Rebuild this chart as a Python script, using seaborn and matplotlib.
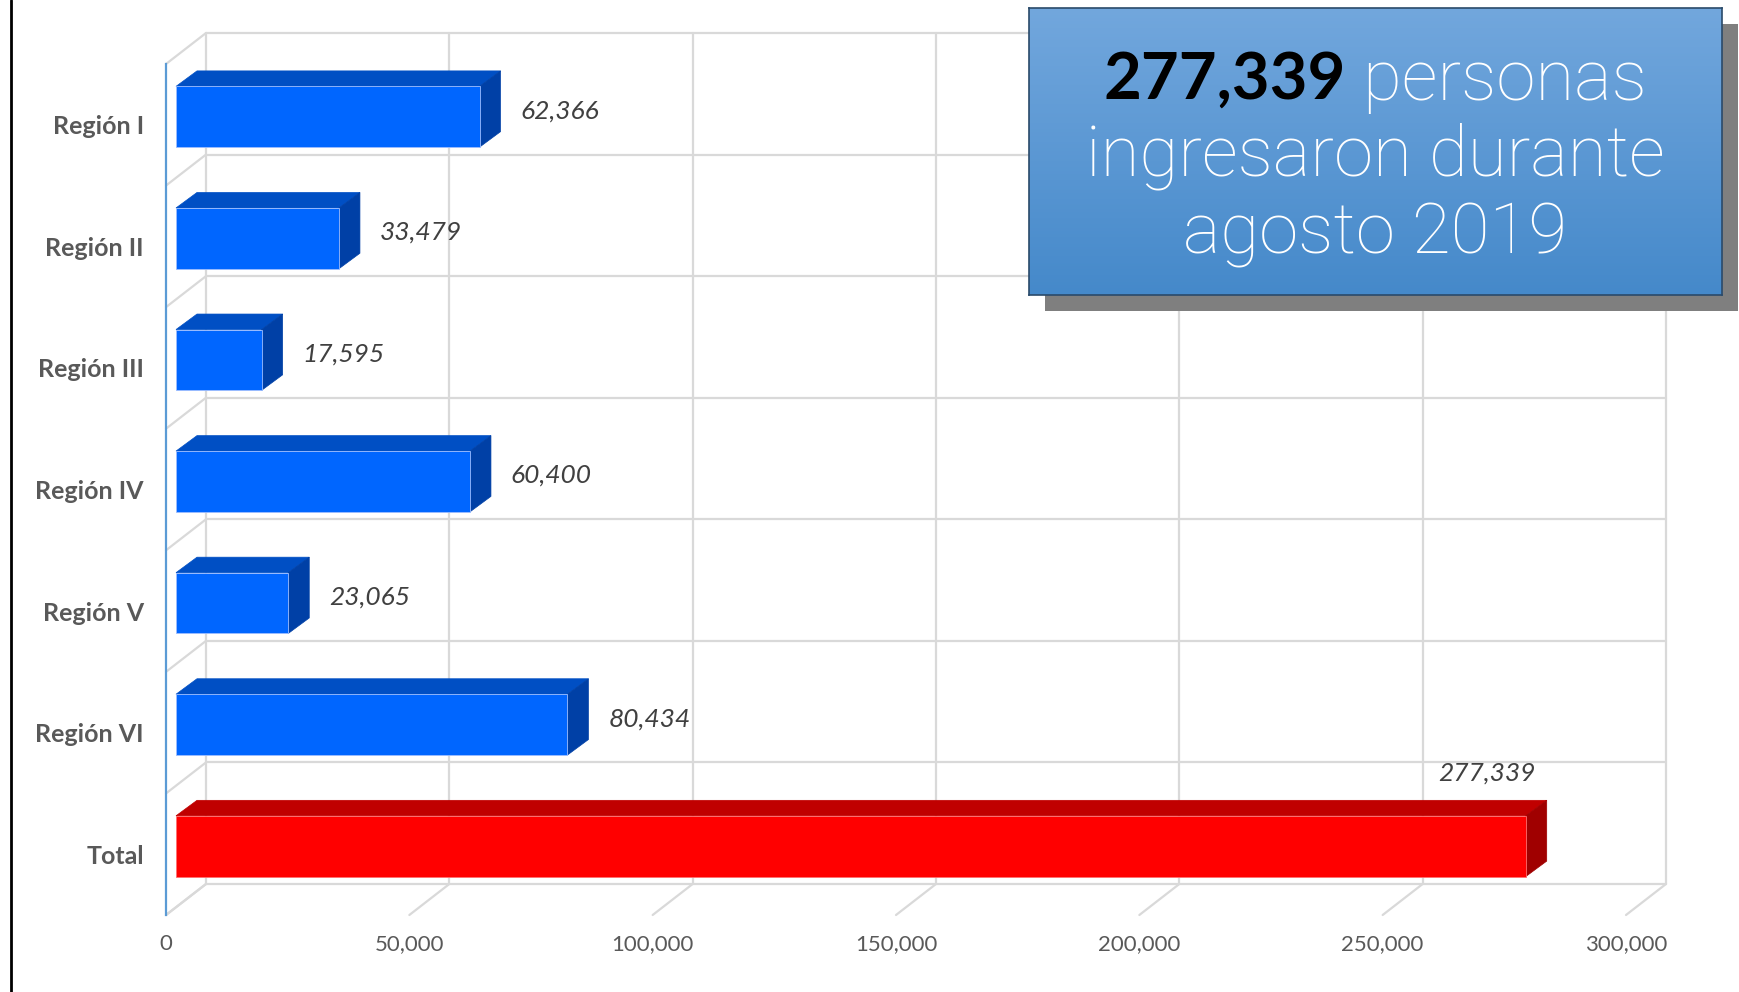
import matplotlib
matplotlib.use("Agg")
from matplotlib import pyplot as plt
from matplotlib.patches import Polygon, Rectangle
from matplotlib.lines import Line2D
import seaborn as sns
import numpy as np

regiones = ["Región I", "Región II", "Región III", "Región IV", "Región V", "Región VI", "Total"]
valores = [62366, 33479, 17595, 60400, 23065, 80434, 277339]
etiquetas = ["62,366", "33,479", "17,595", "60,400", "23,065", "80,434", "277,339"]
colores = ["#0066FF"] * 6 + ["#FF0000"]
colores_top = ["#004FC4"] * 6 + ["#C00000"]
colores_lado = ["#0040A6"] * 6 + ["#A00000"]
colores_borde = ["#9DBDFF"] * 6 + ["#FF7070"]
xticks = [0, 50000, 100000, 150000, 200000, 250000, 300000]

sns.set_style("white")
plt.rcParams["font.family"] = ["Lato", "DejaVu Sans"]

W, H = 1739, 992
fig = plt.figure(figsize=(W / 100, H / 100), dpi=100)
ax_l, ax_b, ax_w, ax_h = 166, 77, 1460, 851
ax = fig.add_axes([ax_l / W, ax_b / H, ax_w / W, ax_h / H])

sns.barplot(x=valores, y=regiones, hue=regiones, palette=colores, orient="h",
            width=0.5, saturation=1, legend=False, ax=ax, zorder=3, linewidth=0.6)
ax.set_xlim(0, 300000)
ax.set_ylim(len(regiones) - 0.5, -0.5)

# pixel -> data units
px_x = 300000 / ax_w
px_y = len(regiones) / ax_h
def shift(dx, dy):
    return dx * px_x, -dy * px_y

wall_x, wall_y = shift(40, 31)
front_x, front_y = shift(10, 8)
deep_x, deep_y = shift(21, 15.5)

grid_c = "#D9D9D9"
grid_lw = 1.6
bounds = np.arange(-0.5, len(regiones), 1.0)
# back wall
for xv in xticks:
    ax.add_line(Line2D([xv + wall_x, xv + wall_x], [bounds[0] + wall_y, bounds[-1] + wall_y],
                       color=grid_c, lw=grid_lw, zorder=0, clip_on=False))
    ax.add_line(Line2D([xv, xv + wall_x], [bounds[-1], bounds[-1] + wall_y],
                       color=grid_c, lw=grid_lw, zorder=0, clip_on=False))
for b in bounds:
    ax.add_line(Line2D([wall_x, 300000 + wall_x], [b + wall_y, b + wall_y],
                       color=grid_c, lw=grid_lw, zorder=0, clip_on=False))
    ax.add_line(Line2D([0, wall_x], [b, b + wall_y],
                       color=grid_c, lw=grid_lw, zorder=0, clip_on=False))

# 3d bars
for i, p in enumerate(ax.patches):
    x0 = p.get_x() + front_x
    y0 = p.get_y() + front_y
    w = p.get_width()
    h = p.get_height()
    p.set_x(x0)
    p.set_y(y0)
    p.set_edgecolor(colores_borde[i])
    top = Polygon([(x0, y0), (x0 + w, y0), (x0 + w + deep_x, y0 + deep_y), (x0 + deep_x, y0 + deep_y)],
                  closed=True, facecolor=colores_top[i], edgecolor=colores_top[i], lw=0.5, zorder=2, clip_on=False)
    lado = Polygon([(x0 + w, y0), (x0 + w, y0 + h), (x0 + w + deep_x, y0 + h + deep_y), (x0 + w + deep_x, y0 + deep_y)],
                   closed=True, facecolor=colores_lado[i], edgecolor=colores_lado[i], lw=0.5, zorder=2, clip_on=False)
    ax.add_patch(top)
    ax.add_patch(lado)
    if i < len(regiones) - 1:
        ax.annotate(etiquetas[i], xy=(x0 + w, y0 + h / 2), xytext=(29.5, 4.3), textcoords="offset points",
                    ha="left", va="center", fontsize=19, style="italic", color="#404040")
    else:
        ax.annotate(etiquetas[i], xy=(x0 + w, y0), xytext=(-28, 31), textcoords="offset points",
                    ha="center", va="center", fontsize=19, style="italic", color="#404040")

for s in ["top", "right", "bottom"]:
    ax.spines[s].set_visible(False)
ax.spines["left"].set_color("#5B9BD5")
ax.spines["left"].set_linewidth(1.6)
ax.set_xticks(xticks)
ax.set_xticklabels([f"{v:,}" for v in xticks], fontsize=16, color="#595959")
ax.tick_params(axis="x", length=0, pad=14)
ax.tick_params(axis="y", length=0, pad=16)
for t in ax.get_yticklabels():
    t.set_fontsize(18)
    t.set_fontweight("bold")
    t.set_color("#595959")
ax.set_xlabel("")
ax.set_ylabel("")

# left frame line
fig.add_artist(Line2D([11 / W, 11 / W], [0, 1], color="black", lw=2, transform=fig.transFigure))

# text box with shadow
bx0, by0, bx1, by1 = 1029, 8, 1722, 295
sh = 15.5
fig.add_artist(Rectangle(((bx0 + sh) / W, 1 - (by1 + sh) / H), (bx1 - bx0) / W, (by1 - by0) / H,
                         transform=fig.transFigure, facecolor="#7F7F7F", edgecolor="none", zorder=5))
bax = fig.add_axes([bx0 / W, 1 - by1 / H, (bx1 - bx0) / W, (by1 - by0) / H], zorder=6)
grad = np.linspace(0, 1, 256).reshape(-1, 1)
cmap = matplotlib.colors.LinearSegmentedColormap.from_list("caja", ["#72A7DD", "#4589CA"])
bax.imshow(grad, aspect="auto", cmap=cmap, extent=[0, 1, 0, 1], origin="upper")
bax.set_xlim(0, 1)
bax.set_ylim(0, 1)
bax.set_xticks([])
bax.set_yticks([])
for s in bax.spines.values():
    s.set_color("#2A4A6A")
    s.set_linewidth(1.2)

caja_font = ["Roboto", "DejaVu Sans"]
cx = (1375 - bx0) / (bx1 - bx0)
def ypos(y):
    return 1 - (y - by0) / (by1 - by0)
t1 = bax.text(0, ypos(80), "277,339", fontsize=47, fontweight="bold", color="black", ha="left", va="center")
t2 = bax.text(0, ypos(80), " personas", fontsize=51, fontweight="light", family=caja_font, color="white", ha="left", va="center")
bax.text(cx, ypos(156), "ingresaron durante", fontsize=51, fontweight="light", family=caja_font, color="white", ha="center", va="center")
bax.text(cx, ypos(234), "agosto 2019", fontsize=51, fontweight="light", family=caja_font, color="white", ha="center", va="center")

fig.canvas.draw()
r = fig.canvas.get_renderer()
w1 = t1.get_window_extent(r).width
w2 = t2.get_window_extent(r).width
bw = bax.get_window_extent(r).width
start = cx - (w1 + w2) / 2 / bw
t1.set_x(start)
t2.set_x(start + w1 / bw)

fig.savefig("out.png", dpi=100)
plt.close(fig)
